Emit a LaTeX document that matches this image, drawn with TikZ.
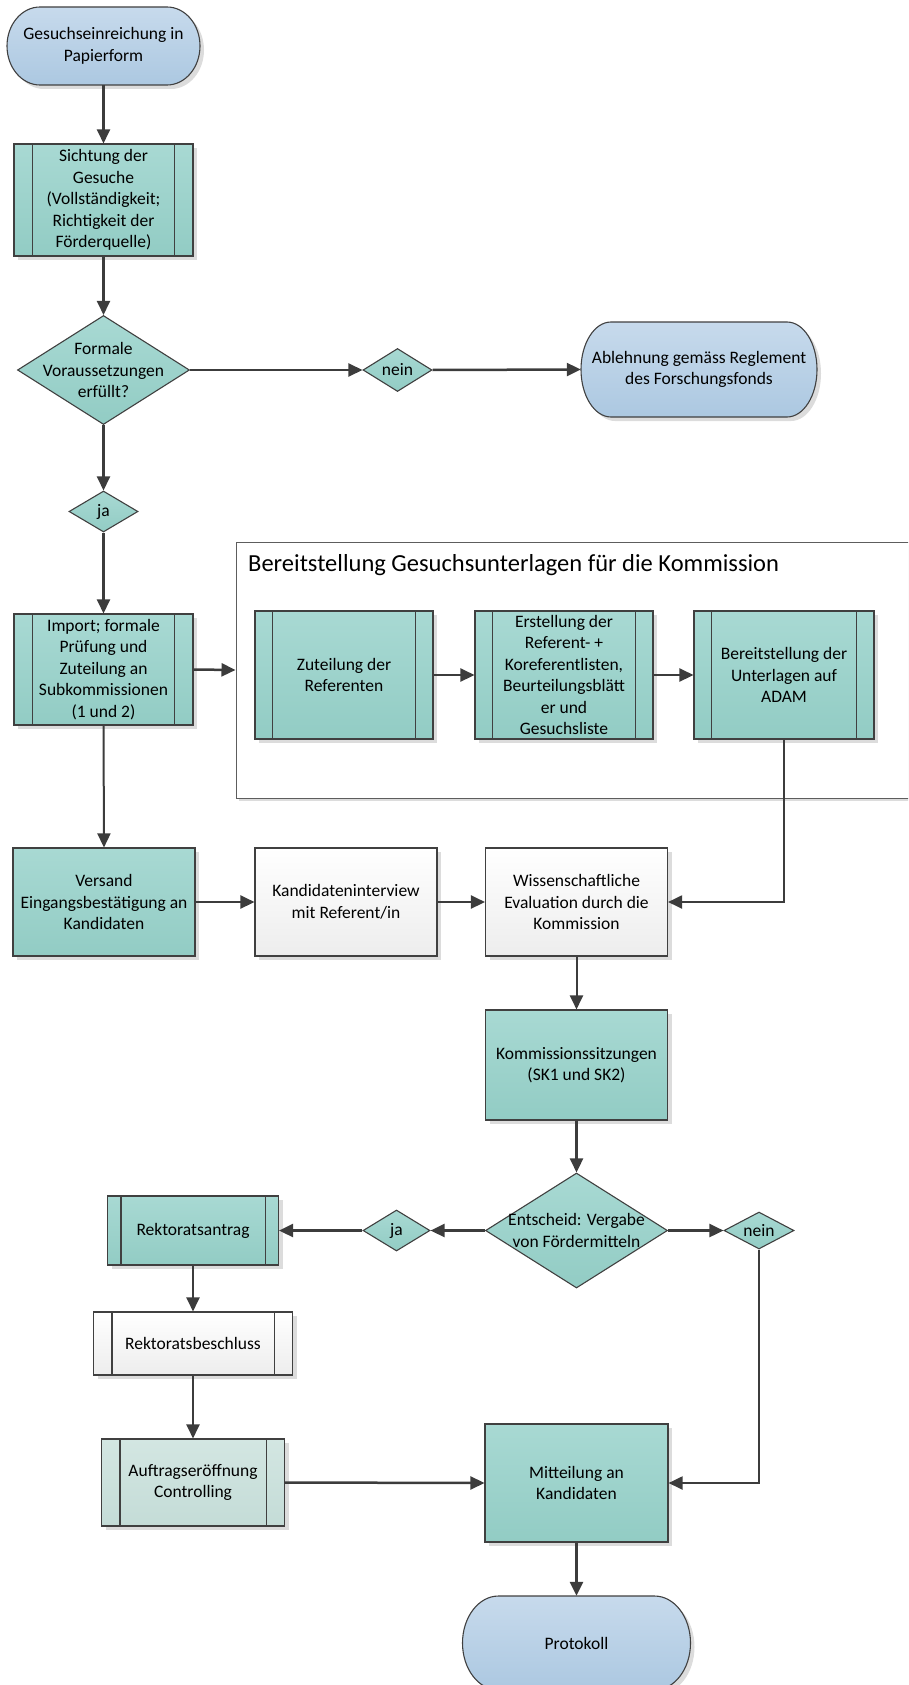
\documentclass[tikz,border=0pt]{standalone}
\usepackage{fontspec}
\setmainfont{Carlito}
\usetikzlibrary{arrows.meta,shapes.geometric,shadows,calc}
\definecolor{tealtop}{HTML}{A8D9D3}
\definecolor{tealbot}{HTML}{92CCC4}
\definecolor{bluetop}{HTML}{C7DAEC}
\definecolor{bluebot}{HTML}{ACC8E1}
\definecolor{whitebot}{HTML}{EDEDED}
\definecolor{paletop}{HTML}{D3E6E2}
\definecolor{palebot}{HTML}{C4DCD7}
\definecolor{bordergray}{HTML}{404040}
\definecolor{linegray}{HTML}{3C3C3C}
\definecolor{shadowgray}{HTML}{DCDCDC}
\newcommand{\nf}{\fontsize{17.5pt}{21.5pt}\selectfont}
\newcommand{\tf}{\fontsize{24.5pt}{29pt}\selectfont}
\newcommand{\sublines}[2]{%
  \draw[bordergray, line width=1.1pt] ([xshift=#2pt]#1.north west) -- ([xshift=#2pt]#1.south west)
    ([xshift=-#2pt]#1.north east) -- ([xshift=-#2pt]#1.south east);}
% name, cx, cy, w, h, rx, text
\newcommand{\terminal}[7]{%
  \fill[shadowgray, xshift=4pt, yshift=-4pt] ({#2-#4/2+#6},{#3-#5/2}) -- ({#2+#4/2-#6},{#3-#5/2})
    arc[start angle=90, end angle=-90, x radius=#6pt, y radius={0.5*#5pt}]
    -- ({#2-#4/2+#6},{#3+#5/2})
    arc[start angle=270, end angle=90, x radius=#6pt, y radius={0.5*#5pt}] -- cycle;
  \path[draw=bordergray, line width=1.1pt, top color=bluetop, bottom color=bluebot]
    ({#2-#4/2+#6},{#3-#5/2}) -- ({#2+#4/2-#6},{#3-#5/2})
    arc[start angle=90, end angle=-90, x radius=#6pt, y radius={0.5*#5pt}]
    -- ({#2-#4/2+#6},{#3+#5/2})
    arc[start angle=270, end angle=90, x radius=#6pt, y radius={0.5*#5pt}] -- cycle;
  \node[txt, minimum width=#4pt, minimum height=#5pt] (#1) at (#2,#3) {#7};}
\tikzset{
  txt/.style={font=\nf, align=center, inner sep=0pt, text=black},
  shad/.style={drop shadow={shadow xshift=4pt, shadow yshift=-4pt, fill=shadowgray, opacity=1}},
  base/.style={txt, draw=bordergray, line width=1.1pt, shad},
  tealbox/.style={base, top color=tealtop, bottom color=tealbot},
  whitebox/.style={base, top color=white, bottom color=whitebot},
  palebox/.style={base, top color=paletop, bottom color=palebot},
  diam/.style={shape=diamond, draw=bordergray, line width=1.1pt, top color=tealtop, bottom color=tealbot, inner sep=0pt},
  conn/.style={draw=linegray, line width=2.5pt, -{Triangle[length=14pt,width=13pt]}},
  thinconn/.style={draw=linegray, line width=2pt, -{Triangle[length=14pt,width=13pt]}},
}
\begin{document}
\begin{tikzpicture}[x=1pt, y=-1pt]
\useasboundingbox (0,0) rectangle (908,1685);
\clip (0,0) rectangle (908,1685);

% start
\terminal{start}{103.5}{46}{193}{78}{33}{Gesuchseinreichung in\\Papierform}

\node[tealbox, minimum width=179pt, minimum height=112pt] (sicht) at (103.5,200)
  {Sichtung der\\Gesuche\\(Vollständigkeit;\\Richtigkeit der\\Förderquelle)};
\sublines{sicht}{19}

\node[diam, minimum width=172pt, minimum height=109pt] (formal) at (103.5,370) {};
\node[txt] (formalt) at (formal) {Formale\\Voraussetzungen\\erfüllt?};

\node[diam, minimum width=69pt, minimum height=43pt] (nein1) at (397.5,370) {};
\node[txt] (nein1t) at (nein1) {nein};

\terminal{ablehn}{699}{369.5}{236}{95}{30}{Ablehnung gemäss Reglement\\des Forschungsfonds}

\node[diam, minimum width=69pt, minimum height=41pt] (ja1) at (103.5,511.5) {};
\node[txt] (ja1t) at (ja1) {ja};

\node[tealbox, minimum width=179pt, minimum height=111pt] (import) at (103.5,669.5)
  {Import; formale\\Prüfung und\\Zuteilung an\\Subkommissionen\\(1 und 2)};
\sublines{import}{19}

% container
\node[draw=bordergray!85, line width=1pt, minimum width=684pt, minimum height=256pt,
  drop shadow={shadow xshift=3pt, shadow yshift=-3pt, fill=shadowgray, opacity=1}, fill=white, inner sep=0pt] (cont) at (578,670) {};
\node[anchor=west, font=\tf, inner sep=0pt] (conttitle) at (248,565) {Bereitstellung Gesuchsunterlagen für die Kommission};

\node[tealbox, minimum width=178pt, minimum height=128pt] (zut) at (344,675) {Zuteilung der\\Referenten};
\sublines{zut}{18}
\node[tealbox, minimum width=178pt, minimum height=128pt] (erst) at (564,675)
  {Erstellung der\\Referent- +\\Koreferentlisten,\\Beurteilungsblätt\\er und\\Gesuchsliste};
\sublines{erst}{18}
\node[tealbox, minimum width=180pt, minimum height=128pt] (bereit) at (784,675)
  {Bereitstellung der\\Unterlagen auf\\ADAM};
\sublines{bereit}{18}

\node[tealbox, minimum width=182pt, minimum height=108pt] (versand) at (104,902)
  {Versand\\Eingangsbestätigung an\\Kandidaten};
\node[whitebox, minimum width=182pt, minimum height=108pt] (kand) at (346,902)
  {Kandidateninterview\\mit Referent/in};
\node[whitebox, minimum width=182pt, minimum height=108pt] (wiss) at (576.5,902)
  {Wissenschaftliche\\Evaluation durch die\\Kommission};

\node[tealbox, minimum width=182pt, minimum height=110pt] (komm) at (576.5,1065)
  {Kommissionssitzungen\\(SK1 und SK2)};

\node[diam, minimum width=182pt, minimum height=115pt] (entsch) at (576.5,1230.5) {};
\node[txt] (entscht) at (entsch) {Entscheid: Vergabe\\von Fördermitteln};

\node[diam, minimum width=67pt, minimum height=41pt] (ja2) at (396.5,1230.5) {};
\node[txt] (ja2t) at (ja2) {ja};
\node[diam, minimum width=70pt, minimum height=37pt] (nein2) at (759,1230.5) {};
\node[txt] (nein2t) at (nein2) {nein};

\node[tealbox, minimum width=171pt, minimum height=69pt] (rekant) at (193,1230.5) {Rektoratsantrag};
\sublines{rekant}{14}
\node[whitebox, minimum width=199pt, minimum height=63pt] (rekbes) at (193,1343.5) {Rektoratsbeschluss};
\sublines{rekbes}{19}
\node[palebox, minimum width=183pt, minimum height=87pt] (auftr) at (193,1482.5) {Auftragseröffnung\\Controlling};
\sublines{auftr}{19}

\node[tealbox, minimum width=183pt, minimum height=118pt] (mitt) at (576.5,1483) {Mitteilung an\\Kandidaten};

\terminal{prot}{576.5}{1643}{228}{94}{36}{Protokoll}

% connectors
\draw[conn] (start.south) -- (sicht.north);
\draw[conn] (sicht.south) -- (formal.north);
\draw[conn] (formal.east) -- (nein1.west);
\draw[conn] (nein1.east) -- (ablehn.west);
\draw[conn] (formal.south) -- (ja1.north);
\draw[conn] (ja1.south) -- (import.north);
\draw[conn] (import.east) -- (cont.west);
\draw[conn] (zut.east) -- (erst.west);
\draw[conn] (erst.east) -- (bereit.west);
\draw[thinconn] (import.south) -- (versand.north);
\draw[conn] (versand.east) -- (kand.west);
\draw[conn] (kand.east) -- (wiss.west);
\draw[thinconn] (bereit.south) |- (wiss.east);
\draw[thinconn] (wiss.south) -- (komm.north);
\draw[conn] (komm.south) -- (entsch.north);
\draw[conn] (entsch.west) -- (ja2.east);
\draw[conn] (ja2.west) -- (rekant.east);
\draw[conn] (entsch.east) -- (nein2.west);
\draw[thinconn] (rekant.south) -- (rekbes.north);
\draw[thinconn] (rekbes.south) -- (auftr.north);
\draw[conn] (auftr.east) -- (mitt.west);
\draw[thinconn] (nein2.south) |- (mitt.east);
\draw[conn] (mitt.south) -- (prot.north);
\end{tikzpicture}
\end{document}
